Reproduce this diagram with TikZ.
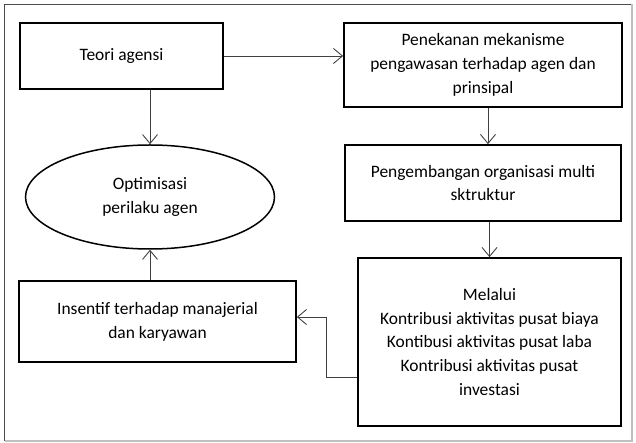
\documentclass[tikz,border=0pt]{standalone}
\usepackage{fontspec}
\setmainfont{Carlito}
\usetikzlibrary{arrows.meta,shapes.geometric}
\begin{document}
\begin{tikzpicture}[x=1bp,y=-1bp,
  every node/.style={font=\fontsize{17.5}{24}\selectfont, align=center, inner sep=0pt},
  stepbox/.style={draw=black, line width=1.7bp, rectangle},
  oval/.style={draw=black, line width=1.5bp, ellipse},
  conn/.style={draw=black!75, line width=0.9bp, -{Straight Barb[length=9bp,width=15bp,line width=0.9bp]}},
  link/.style={draw=black!75, line width=0.9bp}]
  \useasboundingbox (0,0) rectangle (636,443);
  % outer frame
  \draw[black!70, line width=1.2bp] (4.5,441) -- (4.5,4.5) -- (632,4.5);
  \draw[black!25, line width=1.2bp] (4.5,441) -- (632,441) -- (632,4.5);

  \node[stepbox, minimum width=203bp, minimum height=66bp] (teori) at (121.5,56) {Teori agensi};
  \node[stepbox, minimum width=278bp, minimum height=84bp] (pen) at (483,65)
    {Penekanan mekanisme\\pengawasan terhadap agen dan\\prinsipal};
  \node[stepbox, minimum width=276bp, minimum height=76bp] (peng) at (483,183)
    {Pengembangan organisasi multi\\sktruktur};
  \node[stepbox, minimum width=263bp, minimum height=168bp] (mel) at (489.5,342)
    {Melalui\\Kontribusi aktivitas pusat biaya\\Kontibusi aktivitas pusat laba\\Kontribusi aktivitas pusat\\investasi};
  \node[stepbox, minimum width=277bp, minimum height=81bp] (ins) at (157.5,321.5)
    {Insentif terhadap manajerial\\dan karyawan};
  \node[oval, minimum width=249bp, minimum height=104bp] (opt) at (150,197)
    {Optimisasi\\perilaku agen};

  \draw[conn] (teori.east) -- (teori.east -| pen.west);
  \draw[conn] (teori.south -| opt.north) -- (opt.north);
  \draw[conn] ([xshift=5]pen.south) -- ([xshift=5]peng.north);
  \draw[conn] (peng.south -| mel.north) -- (mel.north);
  \draw[conn] ([yshift=-36]mel.west) -- ++(-31,0) |- ([yshift=4.5]ins.east);
  \draw[conn] (ins.north -| opt.south) -- (opt.south);
\end{tikzpicture}
\end{document}
